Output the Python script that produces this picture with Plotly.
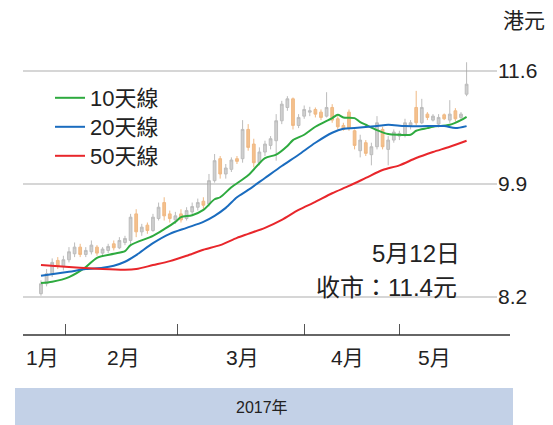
import plotly.graph_objects as go

# ---------------- data ----------------
day_index = list(range(77))
open_ = [8.25, 8.40, 8.55, 8.75, 8.66, 8.76, 8.85, 8.95, 8.84, 8.88,
         8.95, 8.86, 8.90, 9.00, 8.94, 9.02, 9.05, 9.45, 9.18, 9.28,
         9.20, 9.38, 9.62, 9.45, 9.36, 9.45, 9.38, 9.48, 9.55, 9.64,
         9.60, 9.95, 10.28, 10.05, 10.12, 10.28, 10.28, 10.72, 10.50, 10.22,
         10.38, 10.48, 10.55, 10.85, 11.05, 11.18, 10.78, 10.92, 10.98, 11.02,
         10.98, 10.92, 11.05, 10.88, 10.78, 10.98, 10.70, 10.40, 10.52, 10.34,
         10.46, 10.72, 10.42, 10.56, 10.62, 10.65, 10.78, 11.05, 10.82, 10.95,
         10.86, 10.80, 10.94, 10.86, 11.00, 10.90, 11.25]
high = [8.45, 8.62, 8.78, 8.80, 8.82, 8.95, 9.02, 9.00, 8.95, 9.05,
        8.98, 8.95, 9.00, 9.05, 9.10, 9.12, 9.45, 9.52, 9.30, 9.32,
        9.45, 9.62, 9.70, 9.50, 9.48, 9.52, 9.55, 9.62, 9.68, 9.70,
        10.05, 10.35, 10.32, 10.20, 10.30, 10.32, 10.86, 10.80, 10.58, 10.45,
        10.55, 10.62, 10.95, 11.15, 11.22, 11.20, 10.95, 11.08, 11.06, 11.05,
        11.02, 11.28, 11.10, 10.92, 10.82, 11.02, 10.72, 10.64, 10.56, 10.52,
        10.92, 10.76, 10.62, 10.72, 10.70, 10.88, 10.86, 11.30, 11.18, 10.98,
        10.95, 10.95, 10.96, 11.16, 11.04, 10.98, 11.73]
low = [8.22, 8.36, 8.50, 8.62, 8.60, 8.72, 8.80, 8.80, 8.80, 8.84,
       8.82, 8.82, 8.86, 8.90, 8.92, 8.98, 9.00, 9.10, 9.12, 9.15,
       9.18, 9.35, 9.35, 9.32, 9.30, 9.32, 9.35, 9.44, 9.50, 9.52,
       9.56, 9.92, 9.98, 9.98, 10.08, 10.20, 10.22, 10.40, 10.15, 10.18,
       10.32, 10.42, 10.25, 10.80, 11.00, 10.72, 10.74, 10.88, 10.92, 10.90,
       10.86, 10.90, 10.82, 10.72, 10.70, 10.70, 10.42, 10.30, 10.32, 10.18,
       10.42, 10.42, 10.18, 10.52, 10.56, 10.60, 10.72, 10.78, 10.80, 10.86,
       10.84, 10.75, 10.86, 10.82, 10.84, 10.85, 11.22]
close = [8.40, 8.55, 8.72, 8.66, 8.76, 8.88, 8.95, 8.84, 8.90, 8.98,
         8.86, 8.92, 8.96, 8.94, 9.05, 9.08, 9.40, 9.18, 9.25, 9.20,
         9.40, 9.55, 9.42, 9.38, 9.42, 9.36, 9.50, 9.56, 9.62, 9.58,
         9.95, 10.25, 10.05, 10.14, 10.26, 10.24, 10.72, 10.45, 10.22, 10.38,
         10.50, 10.58, 10.85, 11.10, 11.18, 10.78, 10.90, 11.02, 11.00, 10.95,
         10.90, 11.05, 10.86, 10.76, 10.72, 10.74, 10.48, 10.56, 10.36, 10.46,
         10.82, 10.46, 10.56, 10.68, 10.66, 10.82, 10.82, 10.82, 11.05, 10.90,
         10.92, 10.90, 10.88, 10.95, 10.88, 10.95, 11.40]

ma10_x = [0, 2, 5, 8, 10, 13, 15, 16, 20, 22, 24, 25, 27, 29, 31, 32, 34, 37,
          40, 42, 44, 45, 47, 49, 52, 53, 54, 56, 57, 58, 60, 62, 64, 66, 67,
          69, 70, 73, 75, 76]
ma10_y = [8.41, 8.43, 8.50, 8.65, 8.79, 8.85, 8.89, 8.98, 9.12, 9.22, 9.33,
          9.40, 9.43, 9.51, 9.67, 9.70, 9.85, 10.03, 10.29, 10.34, 10.47,
          10.56, 10.64, 10.76, 10.89, 10.94, 10.90, 10.89, 10.83, 10.79,
          10.71, 10.65, 10.64, 10.64, 10.70, 10.74, 10.76, 10.79, 10.86, 10.91]

ma20_x = [0, 5, 8, 11, 13, 15, 17, 20, 23, 26, 29, 31, 33, 35, 37, 40, 43,
          46, 49, 52, 54, 56, 60, 62, 65, 69, 72, 74, 76]
ma20_y = [8.52, 8.58, 8.62, 8.64, 8.67, 8.73, 8.83, 9.01, 9.15, 9.24, 9.33,
          9.42, 9.54, 9.70, 9.81, 9.99, 10.17, 10.34, 10.52, 10.67, 10.73,
          10.74, 10.77, 10.79, 10.77, 10.77, 10.77, 10.74, 10.77]

ma50_x = [0, 5, 11, 15, 17, 20, 23, 26, 29, 32, 35, 37, 40, 43, 46, 49, 52,
          55, 58, 61, 64, 67, 70, 73, 76]
ma50_y = [8.68, 8.65, 8.62, 8.61, 8.62, 8.68, 8.74, 8.82, 8.91, 8.98, 9.09,
          9.15, 9.24, 9.36, 9.51, 9.63, 9.76, 9.87, 9.99, 10.11, 10.18, 10.29,
          10.38, 10.46, 10.55]

y_ticks = [8.2, 9.9, 11.6]
y_tick_text = ["8.2", "9.9", "11.6"]
month_bounds = [4.46, 24.3, 47.1, 64.0]
month_label_pos = [0.36, 14.8, 35.9, 54.8, 70.2]
month_labels = ["1月", "2月", "3月", "4月", "5月"]
series_names = ["10天線", "20天線", "50天線"]
series_colors = ["#2eaa3f", "#1a6cbf", "#e8262b"]

LAT = "Liberation Sans, Arial, Noto Sans CJK TC, sans-serif"

fig = go.Figure()

fig.add_trace(go.Candlestick(
    x=day_index, open=open_, high=high, low=low, close=close,
    increasing=dict(line=dict(color="#a3a3a3", width=1), fillcolor="#bdbdbd"),
    decreasing=dict(line=dict(color="#eb9f55", width=1), fillcolor="#f0a862"),
    opacity=0.72, showlegend=False, hoverinfo="skip", whiskerwidth=0,
))

# geometry (page coordinates; page body has an 8px margin)
W, H = 553, 425
L, R, T, B = 15, 64, 0, 98
pw, ph = W - L - R, H - T - B


def px_x(p):
    return (p - 23) / pw


def px_y(p):
    return (335 - p) / ph


legend_ids = ["legend", "legend2", "legend3"]
legend_y_px = [98, 127, 156]
for xs, ys, name, col, lid in [(ma10_x, ma10_y, series_names[0], series_colors[0], legend_ids[0]),
                               (ma20_x, ma20_y, series_names[1], series_colors[1], legend_ids[1]),
                               (ma50_x, ma50_y, series_names[2], series_colors[2], legend_ids[2])]:
    fig.add_trace(go.Scatter(x=xs, y=ys, mode="lines", name=name, legend=lid,
                             line=dict(color=col, width=2, shape="spline", smoothing=0.8)))

annotations = []
for pos, lab in zip(month_label_pos, month_labels):
    annotations.append(dict(x=pos, y=0, xref="x", yref="paper", text=lab,
                            showarrow=False, xanchor="center", yanchor="middle", yshift=-22,
                            font=dict(family=LAT, size=21, color="#222")))
annotations += [
    dict(x=px_x(524), y=px_y(20), xref="paper", yref="paper", text="港元",
         showarrow=False, xanchor="center", yanchor="middle",
         font=dict(family=LAT, size=21, color="#222")),
    dict(x=px_x(462), y=px_y(254), xref="paper", yref="paper", text="5月12日",
         showarrow=False, xanchor="right", yanchor="middle",
         font=dict(family=LAT, size=24, color="#222")),
    dict(x=px_x(459), y=px_y(287), xref="paper", yref="paper", text="收市：11.4元",
         showarrow=False, xanchor="right", yanchor="middle",
         font=dict(family=LAT, size=24, color="#222")),
    dict(x=px_x(262), y=px_y(407), xref="paper", yref="paper", text="2017年",
         showarrow=False, xanchor="center", yanchor="middle",
         font=dict(family=LAT, size=16, color="#222")),
]

shapes = [
    dict(type="rect", xref="paper", yref="paper", x0=px_x(15), x1=px_x(513),
         y0=px_y(388), y1=px_y(432), fillcolor="#c3d1e7", line=dict(width=0), layer="below"),
    dict(type="line", xref="paper", yref="paper", x0=px_x(23), x1=px_x(543),
         y0=px_y(7), y1=px_y(7), line=dict(color="#333", width=1.5)),
    dict(type="line", xref="paper", yref="paper", x0=0, x1=px_x(510),
         y0=0, y1=0, line=dict(color="#333", width=1.5)),
]

legend_common = dict(xanchor="left", yanchor="middle", bgcolor="rgba(0,0,0,0)",
                     font=dict(family=LAT, size=22, color="#222"), itemwidth=30)
layout_legends = {}
for lid, ypx in zip(legend_ids, legend_y_px):
    layout_legends[lid] = dict(x=px_x(50), y=px_y(ypx), **legend_common)

fig.update_layout(
    width=W, height=H,
    margin=dict(l=L, r=R, t=T, b=B),
    paper_bgcolor="white", plot_bgcolor="white",
    showlegend=True,
    xaxis=dict(range=[-3.21, 81.43], showgrid=False, zeroline=False,
               rangeslider=dict(visible=False), tickvals=month_bounds,
               ticks="inside", ticklen=11, tickwidth=1.2, tickcolor="#555",
               showticklabels=False, showline=False, fixedrange=True),
    yaxis=dict(range=[7.6286, 12.546], side="right", tickvals=y_ticks, ticktext=y_tick_text,
               showgrid=True, gridcolor="#d6d6d6", gridwidth=1.5, zeroline=False,
               ticks="", showline=False,
               tickfont=dict(family=LAT, size=21, color="#222")),
    annotations=annotations,
    shapes=shapes,
    **layout_legends,
)

fig.write_html("out.html")
